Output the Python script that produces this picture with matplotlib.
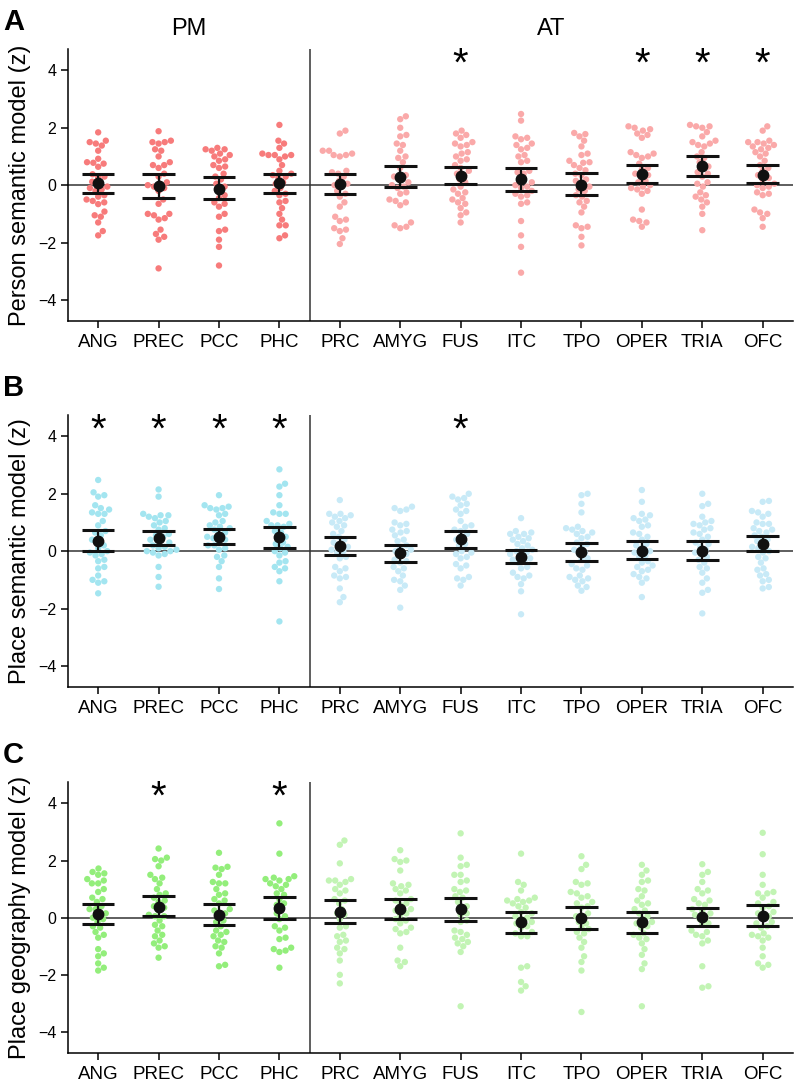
import numpy as np
import matplotlib; matplotlib.use("Agg")
import matplotlib.pyplot as plt

plt.rcParams["font.family"] = ["Liberation Sans", "DejaVu Sans"]

regions = ["ANG", "PREC", "PCC", "PHC", "PRC", "AMYG", "FUS", "ITC", "TPO", "OPER", "TRIA", "OFC"]
n_pm = 4

# --- A: person semantic model (z), one list per region ---
person_pts = [
    [1.84, 1.55, 1.5, 1.45, 1.38, 1.2, 0.92, 0.8, 0.78, 0.75, 0.64, 0.38, 0.3, 0.28, 0.12, 0.05, -0.05, -0.1,
     -0.15, -0.2, -0.35, -0.4, -0.5, -0.55, -0.6, -0.66, -0.92, -1.05, -1.1, -1.3, -1.6, -1.75],
    [1.88, 1.55, 1.5, 1.5, 1.45, 1.25, 1.2, 1.0, 0.8, 0.7, 0.7, 0.6, 0.4, 0.3, 0.1, 0.05, 0.0, -0.05, -0.1,
     -0.2, -0.5, -0.65, -1.0, -1.0, -1.05, -1.15, -1.2, -1.55, -1.7, -1.8, -1.9, -2.9],
    [1.3, 1.25, 1.25, 1.2, 1.1, 1.05, 1.0, 0.9, 0.85, 0.7, 0.65, 0.6, 0.4, 0.3, 0.2, 0.05, -0.05, -0.15, -0.35,
     -0.45, -0.6, -0.65, -0.75, -1.0, -1.1, -1.55, -1.6, -1.9, -2.15, -2.8],
    [2.1, 1.55, 1.45, 1.3, 1.1, 1.05, 1.05, 1.05, 1.0, 0.9, 0.7, 0.5, 0.4, 0.35, 0.3, 0.25, 0.1, 0.05, -0.1,
     -0.2, -0.3, -0.35, -0.55, -0.6, -0.8, -1.0, -1.2, -1.4, -1.4, -1.75, -1.85],
    [1.9, 1.8, 1.2, 1.2, 1.1, 1.05, 1.05, 1.0, 0.5, 0.45, 0.4, 0.3, 0.15, 0.05, 0.0, -0.05, -0.2, -0.3, -0.4,
     -0.6, -0.75, -1.1, -1.2, -1.25, -1.5, -1.55, -1.6, -1.85, -2.05],
    [2.4, 2.3, 2.0, 1.75, 1.7, 1.45, 1.4, 1.2, 1.0, 0.95, 0.8, 0.6, 0.35, 0.3, 0.25, 0.1, 0.0, -0.05, -0.1,
     -0.25, -0.3, -0.5, -0.55, -0.6, -0.7, -1.3, -1.4, -1.45, -1.5],
    [1.9, 1.8, 1.75, 1.65, 1.5, 1.45, 1.4, 1.35, 1.15, 1.1, 1.0, 0.9, 0.85, 0.7, 0.6, 0.5, 0.4, 0.35, 0.2, 0.1,
     -0.05, -0.15, -0.25, -0.3, -0.45, -0.5, -0.6, -0.65, -0.8, -0.95, -1.05, -1.3],
    [2.48, 2.25, 1.7, 1.65, 1.6, 1.45, 1.4, 1.3, 1.25, 1.05, 1.0, 0.85, 0.8, 0.5, 0.45, 0.4, 0.2, 0.1, 0.0,
     -0.05, -0.1, -0.2, -0.3, -0.35, -0.4, -0.6, -0.65, -1.25, -1.75, -2.15, -3.05],
    [1.82, 1.78, 1.7, 1.55, 1.35, 1.1, 1.05, 0.85, 0.8, 0.78, 0.7, 0.6, 0.52, 0.4, 0.35, 0.2, 0.15, 0.05, -0.05,
     -0.15, -0.2, -0.35, -0.4, -0.55, -0.6, -0.75, -0.95, -1.4, -1.45, -1.5, -1.8, -2.1],
    [2.05, 2.0, 1.95, 1.9, 1.8, 1.75, 1.65, 1.15, 1.1, 1.05, 1.0, 0.95, 0.75, 0.6, 0.55, 0.4, 0.35, 0.3, 0.15,
     0.1, 0.0, -0.05, -0.1, -0.15, -0.2, -0.3, -0.85, -1.2, -1.25, -1.3, -1.45],
    [2.1, 2.05, 2.05, 2.0, 1.85, 1.7, 1.55, 1.5, 1.45, 1.4, 1.35, 1.15, 1.0, 0.95, 0.8, 0.65, 0.6, 0.45, 0.4,
     0.3, 0.1, 0.05, -0.05, -0.25, -0.35, -0.4, -0.5, -0.6, -0.75, -1.0, -1.57],
    [2.05, 1.9, 1.55, 1.5, 1.5, 1.45, 1.4, 1.35, 1.3, 1.25, 1.15, 1.1, 1.0, 0.85, 0.7, 0.6, 0.5, 0.35, 0.25,
     0.2, 0.05, 0.0, -0.05, -0.1, -0.25, -0.3, -0.35, -0.85, -0.95, -1.0, -1.15, -1.45],
]
person_mean = [0.06, -0.02, -0.12, 0.06, 0.03, 0.29, 0.31, 0.20, 0.02, 0.38, 0.67, 0.37]
person_lo = [-0.26, -0.43, -0.48, -0.27, -0.31, -0.06, 0.03, -0.21, -0.33, 0.06, 0.33, 0.07]
person_hi = [0.38, 0.38, 0.27, 0.38, 0.40, 0.66, 0.64, 0.60, 0.41, 0.72, 1.01, 0.69]
person_sig = ["FUS", "OPER", "TRIA", "OFC"]

# --- B: place semantic model (z) ---
psem_pts = [
    [2.48, 2.05, 1.95, 1.9, 1.6, 1.5, 1.45, 1.35, 1.3, 1.3, 1.05, 0.9, 0.7, 0.65, 0.55, 0.4, 0.35, 0.2, 0.1,
     0.0, -0.05, -0.1, -0.15, -0.3, -0.35, -0.55, -0.6, -0.85, -1.0, -1.05, -1.1, -1.47],
    [2.15, 1.9, 1.3, 1.25, 1.25, 1.2, 1.15, 1.05, 1.0, 0.9, 0.8, 0.75, 0.6, 0.55, 0.5, 0.4, 0.35, 0.3, 0.2,
     0.15, 0.1, 0.05, 0.0, -0.0, -0.05, -0.1, -0.15, -0.55, -0.9, -1.24],
    [1.95, 1.6, 1.55, 1.5, 1.5, 1.45, 1.3, 1.25, 1.05, 1.0, 0.9, 0.85, 0.8, 0.75, 0.65, 0.6, 0.5, 0.45, 0.4,
     0.35, 0.2, 0.2, 0.1, 0.05, -0.15, -0.2, -0.35, -0.55, -0.95, -1.32],
    [2.85, 2.35, 2.25, 1.95, 1.6, 1.35, 1.3, 1.3, 1.05, 0.95, 0.9, 0.9, 0.85, 0.7, 0.65, 0.5, 0.45, 0.3, 0.25,
     0.15, 0.1, 0.0, -0.05, -0.15, -0.35, -0.4, -0.55, -0.6, -0.7, -1.05, -2.45],
    [1.78, 1.3, 1.3, 1.25, 1.2, 1.15, 1.05, 1.0, 0.9, 0.85, 0.7, 0.6, 0.5, 0.4, 0.3, 0.25, 0.15, 0.05, 0.0,
     -0.05, -0.2, -0.25, -0.55, -0.6, -0.7, -0.85, -0.9, -0.95, -1.3, -1.6, -1.78],
    [1.55, 1.5, 1.45, 1.4, 1.0, 0.95, 0.9, 0.75, 0.7, 0.65, 0.55, 0.4, 0.35, 0.2, 0.15, 0.05, 0.0, -0.1, -0.15,
     -0.3, -0.35, -0.4, -0.55, -0.6, -0.7, -0.85, -1.0, -1.05, -1.2, -1.35, -1.97],
    [2.0, 1.9, 1.85, 1.8, 1.65, 1.6, 1.45, 1.4, 1.3, 1.05, 0.9, 0.85, 0.75, 0.7, 0.6, 0.45, 0.4, 0.25, 0.2,
     0.0, -0.05, -0.1, -0.2, -0.25, -0.45, -0.5, -0.6, -0.9, -0.95, -1.0, -1.2],
    [1.15, 0.7, 0.65, 0.6, 0.6, 0.5, 0.45, 0.4, 0.35, 0.25, 0.2, 0.1, 0.05, 0.0, -0.05, -0.1, -0.15, -0.25,
     -0.3, -0.35, -0.4, -0.55, -0.6, -0.75, -0.85, -0.9, -0.95, -1.15, -1.4, -2.2],
    [2.0, 1.95, 1.65, 1.35, 0.85, 0.8, 0.75, 0.7, 0.65, 0.6, 0.5, 0.45, 0.3, 0.25, 0.15, 0.05, -0.05, -0.1,
     -0.25, -0.3, -0.45, -0.5, -0.6, -0.65, -0.85, -0.9, -0.95, -1.0, -1.05, -1.2, -1.25, -1.38],
    [2.13, 1.72, 1.3, 1.25, 1.15, 1.1, 1.05, 0.9, 0.85, 0.65, 0.6, 0.5, 0.4, 0.25, 0.2, 0.1, 0.0, -0.05, -0.15,
     -0.2, -0.35, -0.4, -0.5, -0.55, -0.65, -0.7, -0.8, -0.9, -0.95, -1.1, -1.6],
    [2.0, 1.65, 1.57, 1.2, 1.05, 1.0, 0.95, 0.9, 0.8, 0.75, 0.65, 0.6, 0.5, 0.4, 0.3, 0.25, 0.15, 0.05, -0.05,
     -0.1, -0.2, -0.3, -0.4, -0.55, -0.6, -0.75, -0.95, -1.1, -1.35, -1.45, -2.17],
    [1.75, 1.72, 1.4, 1.35, 1.3, 1.2, 1.0, 0.95, 0.95, 0.8, 0.75, 0.7, 0.65, 0.55, 0.5, 0.4, 0.35, 0.25, 0.15,
     0.1, 0.0, -0.05, -0.2, -0.25, -0.4, -0.6, -0.65, -0.8, -0.85, -1.0, -1.05, -1.25, -1.3],
]
psem_mean = [0.37, 0.47, 0.49, 0.49, 0.19, -0.07, 0.41, -0.19, -0.04, 0.02, 0.02, 0.26]
psem_lo = [0.02, 0.23, 0.26, 0.12, -0.15, -0.39, 0.12, -0.42, -0.35, -0.27, -0.30, -0.01]
psem_hi = [0.72, 0.70, 0.76, 0.84, 0.51, 0.23, 0.70, 0.05, 0.28, 0.34, 0.37, 0.53]
psem_sig = ["ANG", "PREC", "PCC", "PHC", "FUS"]

# --- C: place geography model (z) ---
pgeo_pts = [
    [1.72, 1.6, 1.55, 1.5, 1.35, 1.3, 1.2, 1.2, 1.0, 0.9, 0.7, 0.65, 0.55, 0.4, 0.3, 0.3, 0.15, 0.1, 0.0,
     -0.05, -0.15, -0.3, -0.35, -0.5, -0.6, -0.7, -1.1, -1.25, -1.35, -1.6, -1.75, -1.85],
    [2.42, 2.1, 2.05, 2.0, 1.8, 1.5, 1.4, 1.35, 1.2, 1.0, 0.85, 0.8, 0.7, 0.6, 0.55, 0.4, 0.35, 0.25, 0.1,
     0.05, 0.05, -0.1, -0.25, -0.3, -0.45, -0.6, -0.65, -0.8, -0.9, -1.0, -1.05, -1.4],
    [2.27, 1.78, 1.75, 1.7, 1.5, 1.25, 1.2, 1.2, 1.0, 0.85, 0.8, 0.65, 0.6, 0.5, 0.3, 0.25, 0.15, 0.1, -0.1,
     -0.15, -0.3, -0.45, -0.5, -0.6, -0.65, -0.8, -0.85, -1.0, -1.05, -1.25, -1.65, -1.7],
    [3.3, 2.24, 1.45, 1.4, 1.35, 1.35, 1.3, 1.2, 1.15, 1.1, 1.0, 0.85, 0.8, 0.65, 0.5, 0.45, 0.3, 0.15, 0.05,
     -0.05, -0.3, -0.35, -0.45, -0.7, -0.75, -1.05, -1.1, -1.15, -1.2, -1.75],
    [2.7, 2.55, 1.9, 1.35, 1.3, 1.3, 1.25, 1.15, 1.0, 0.95, 0.85, 0.65, 0.6, 0.5, 0.3, 0.15, 0.1, -0.05, -0.3,
     -0.35, -0.6, -0.65, -0.8, -0.85, -1.05, -1.1, -1.25, -1.5, -2.0, -2.3],
    [2.36, 2.05, 2.0, 1.95, 1.65, 1.2, 1.15, 1.1, 1.0, 0.95, 0.85, 0.65, 0.6, 0.5, 0.45, 0.3, 0.25, 0.15, 0.1,
     -0.05, -0.1, -0.2, -0.35, -0.4, -0.5, -0.55, -1.05, -1.5, -1.55, -1.7],
    [2.95, 2.1, 1.85, 1.8, 1.5, 1.5, 1.3, 1.25, 1.0, 0.95, 0.9, 0.75, 0.7, 0.55, 0.4, 0.35, 0.15, 0.1, -0.1,
     -0.15, -0.45, -0.5, -0.6, -0.7, -0.75, -0.85, -0.9, -1.0, -1.2, -3.1],
    [2.24, 1.25, 1.15, 0.95, 0.7, 0.65, 0.6, 0.6, 0.55, 0.5, 0.4, 0.35, 0.2, 0.15, 0.05, 0.0, -0.05, -0.15,
     -0.2, -0.3, -0.35, -0.5, -0.55, -0.65, -0.65, -1.7, -1.75, -2.25, -2.4, -2.55],
    [2.15, 1.85, 1.7, 1.25, 1.2, 1.15, 0.9, 0.85, 0.75, 0.7, 0.55, 0.5, 0.4, 0.35, 0.15, 0.05, 0.0, -0.15,
     -0.2, -0.35, -0.4, -0.5, -0.55, -0.7, -0.85, -1.05, -1.35, -1.55, -1.85, -3.3],
    [1.85, 1.65, 1.5, 1.3, 1.25, 1.0, 0.95, 0.75, 0.6, 0.5, 0.45, 0.3, 0.25, 0.15, 0.05, -0.05, -0.15, -0.2,
     -0.3, -0.35, -0.55, -0.6, -0.7, -0.75, -0.9, -1.1, -1.3, -1.6, -1.8, -3.1],
    [1.87, 1.6, 1.5, 1.25, 1.0, 0.95, 0.85, 0.65, 0.6, 0.5, 0.45, 0.3, 0.25, 0.15, 0.1, 0.0, -0.05, -0.2,
     -0.25, -0.45, -0.5, -0.6, -0.65, -0.8, -0.9, -1.7, -2.4, -2.45],
    [2.97, 2.22, 1.5, 1.15, 0.9, 0.85, 0.85, 0.7, 0.55, 0.5, 0.4, 0.35, 0.2, 0.15, 0.05, 0.0, -0.15, -0.2,
     -0.3, -0.35, -0.55, -0.6, -0.65, -0.7, -0.8, -1.05, -1.35, -1.6, -1.65, -1.75],
]
pgeo_mean = [0.14, 0.37, 0.10, 0.34, 0.21, 0.30, 0.30, -0.16, 0.00, -0.16, 0.02, 0.07]
pgeo_lo = [-0.21, 0.06, -0.27, -0.04, -0.19, -0.04, -0.12, -0.53, -0.39, -0.54, -0.30, -0.29]
pgeo_hi = [0.49, 0.75, 0.47, 0.72, 0.63, 0.64, 0.69, 0.19, 0.37, 0.19, 0.34, 0.43]
pgeo_sig = ["PREC", "PHC"]

panels = [
    ("A", "Person semantic model (z)", person_pts, person_mean, person_lo, person_hi, person_sig,
     "#F77B7B", "#FAA9A9", 0.955, 0.704),
    ("B", "Place semantic model (z)", psem_pts, psem_mean, psem_lo, psem_hi, psem_sig,
     "#A3E5F0", "#C8EAF7", 0.618, 0.367),
    ("C", "Place geography model (z)", pgeo_pts, pgeo_mean, pgeo_lo, pgeo_hi, pgeo_sig,
     "#93EE7B", "#C2F4B4", 0.280, 0.030),
]

XPX, YPX = 60.4, 28.6   # px per data unit
DIAM = 6.3              # min centre distance between dots, px


def swarm(vals):
    """x offsets (data units) for a simple beeswarm, points processed bottom-up"""
    order = np.argsort(vals)
    ys = np.asarray(vals)[order] * YPX
    placed, out = [], np.zeros(len(vals))
    for k, y in zip(order, ys):
        cands = [0.0]
        for px, py in placed:
            dy = y - py
            if abs(dy) < DIAM:
                dx = np.sqrt(DIAM**2 - dy**2)
                cands += [px + dx, px - dx]
        cands.sort(key=abs)
        for c in cands:
            if all((c - px)**2 + (y - py)**2 >= DIAM**2 - 1e-6 for px, py in placed):
                break
        placed.append((c, y))
        out[k] = c / XPX
    return out


fig = plt.figure(figsize=(7.94, 10.86), dpi=100)
for lab, ylab, pts, mean, lo, hi, sig, c_pm, c_at, top, bot in panels:
    ax = fig.add_axes([0.0856, bot, 0.9130, top - bot])
    for i, v in enumerate(pts):
        col = c_pm if i < n_pm else c_at
        ax.scatter(i + swarm(v), v, s=21, color=col, edgecolor="none", zorder=2)
    xs = np.arange(len(regions))
    ax.axhline(0, color="#333333", lw=1.1, zorder=1)
    ax.axvline(n_pm - 0.5, color="#333333", lw=1.1, zorder=1)
    ax.vlines(xs, lo, hi, color="#111111", lw=1.6, zorder=3)
    ax.hlines(lo, xs - 0.27, xs + 0.27, color="#111111", lw=2.2, zorder=3)
    ax.hlines(hi, xs - 0.27, xs + 0.27, color="#111111", lw=2.2, zorder=3)
    ax.plot(xs, mean, "o", color="#111111", ms=7.5, zorder=4)
    for r in sig:
        ax.text(regions.index(r), 4.2, "*", ha="center", va="center", fontsize=29)
    ax.set_xlim(-0.5, 11.5); ax.set_ylim(-4.75, 4.75)
    ax.set_xticks(xs); ax.set_xticklabels(regions, fontsize=13.5)
    ax.set_yticks([-4, -2, 0, 2, 4])
    ax.tick_params(axis="y", labelsize=11.5, length=5, width=1.1)
    ax.tick_params(axis="x", length=5, width=1.1, pad=4)
    for s in ["top", "right"]:
        ax.spines[s].set_visible(False)
    for s in ["left", "bottom"]:
        ax.spines[s].set_linewidth(1.1)
    ax.set_ylabel(ylab, fontsize=17, labelpad=5)
    fig.text(0.004, top + 0.0375, lab, fontsize=21, fontweight="bold", ha="left", va="top")
    if lab == "A":
        ax.text(1.5, 5.45, "PM", ha="center", va="center", fontsize=17, clip_on=False)
        ax.text(7.5, 5.45, "AT", ha="center", va="center", fontsize=17, clip_on=False)

fig.savefig("out.png", dpi=100)
